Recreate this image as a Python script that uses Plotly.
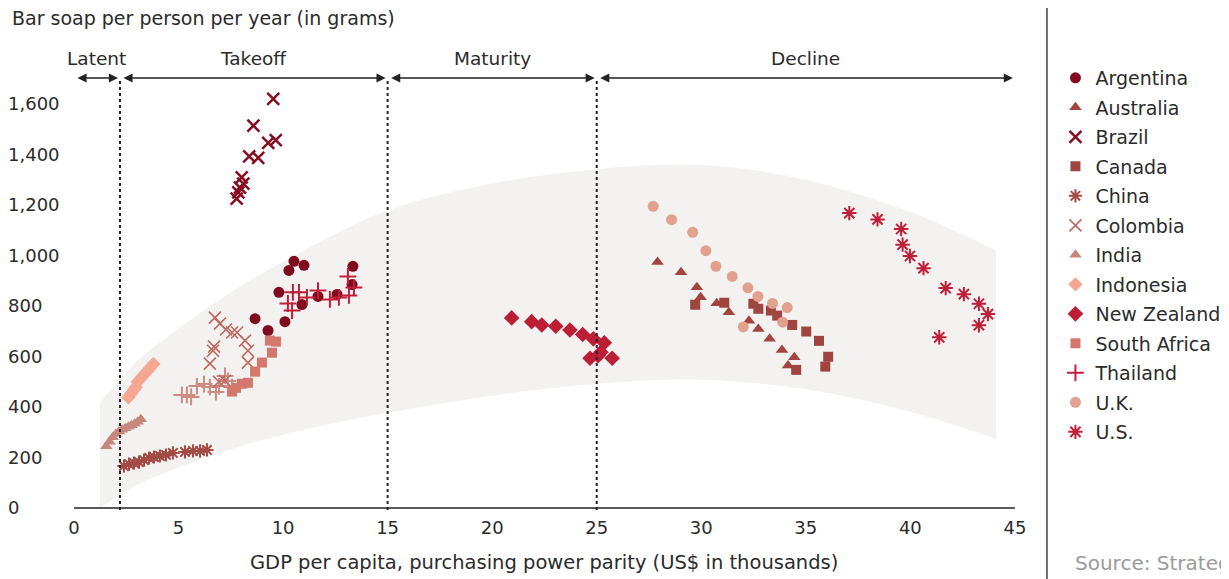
import plotly.graph_objects as go

# ---------------- data ----------------
countries = ["Argentina", "Australia", "Brazil", "Canada", "China", "Colombia", "India",
             "Indonesia", "New Zealand", "South Africa", "Thailand", "U.K.", "U.S."]

argentina_x = [8.66, 9.28, 10.09, 9.80, 10.28, 10.52, 11.00, 10.90, 11.67, 12.58, 13.34, 13.30]
argentina_y = [750, 703, 738, 854, 941, 977, 961, 806, 838, 846, 957, 885]

australia_x = [27.91, 29.03, 29.79, 29.97, 30.74, 31.32, 32.28, 32.73, 33.27, 33.86, 34.45, 34.15]
australia_y = [974, 934, 874, 835, 811, 775, 742, 709, 670, 626, 597, 564]

brazil_x = [9.53, 8.58, 9.29, 9.65, 8.38, 8.81, 8.02, 8.10, 7.94, 7.86, 7.78]
brazil_y = [1620, 1514, 1446, 1457, 1393, 1387, 1309, 1285, 1269, 1250, 1225]

canada_x = [29.71, 31.10, 32.49, 32.73, 33.33, 33.63, 34.35, 35.02, 35.63, 36.07, 35.93, 34.54]
canada_y = [805, 813, 809, 789, 782, 762, 725, 699, 662, 599, 560, 547]

china_x = [2.39, 2.63, 2.87, 3.11, 3.35, 3.59, 3.83, 4.11, 4.40, 4.73, 5.31, 5.69, 6.03, 6.36]
china_y = [166, 174, 178, 182, 190, 198, 202, 206, 210, 218, 222, 226, 226, 230]

colombia_x = [6.74, 6.98, 7.27, 7.56, 7.80, 8.18, 8.32, 8.32, 6.65, 6.70, 6.50, 6.93, 7.22]
colombia_y = [754, 730, 707, 695, 695, 663, 623, 576, 623, 639, 572, 500, 504]

india_x = [1.55, 1.70, 1.85, 2.00, 2.15, 2.30, 2.45, 2.60, 2.75, 2.90, 3.05, 3.20]
india_y = [245, 262, 280, 293, 303, 310, 316, 322, 328, 334, 342, 352]

indonesia_x = [2.60, 2.72, 2.85, 2.95, 3.05, 3.20, 3.35, 3.50, 3.65, 3.80]
indonesia_y = [438, 452, 466, 478, 500, 514, 528, 542, 556, 570]

nz_x = [20.93, 21.89, 22.37, 23.04, 23.72, 24.33, 24.84, 25.36, 25.20, 25.07, 24.68, 25.74]
nz_y = [753, 738, 725, 720, 705, 687, 670, 654, 617, 603, 593, 593]

sa_x = [9.37, 9.66, 9.47, 8.99, 8.66, 8.32, 8.03, 7.75, 7.56]
sa_y = [663, 659, 615, 576, 540, 496, 492, 476, 461]

thailand_x = [10.23, 10.43, 10.47, 10.76, 11.14, 11.67, 12.24, 12.67, 13.15, 13.10, 13.39]
thailand_y = [810, 782, 854, 854, 834, 861, 826, 834, 842, 917, 873]

uk_x = [27.70, 28.58, 29.59, 30.22, 30.70, 31.48, 32.23, 32.71, 33.41, 34.11, 33.89, 32.01]
uk_y = [1195, 1142, 1092, 1019, 957, 917, 872, 838, 810, 794, 736, 717]

us_x = [37.08, 38.43, 39.56, 39.63, 39.98, 40.63, 41.69, 42.56, 43.28, 43.71, 43.28, 41.38]
us_y = [1168, 1143, 1105, 1043, 998, 950, 871, 847, 809, 768, 724, 676]

# unlabelled light "+" series
other_x = [5.16, 5.40, 5.60, 5.88, 6.22, 6.50, 6.79, 6.93, 7.22, 7.36, 7.56]
other_y = [448, 448, 440, 483, 491, 479, 459, 483, 523, 503, 479]

# shaded band (envelope)
band_x = [1.24, 3, 5, 8, 11, 15, 20, 25, 30, 35, 40, 44.1]
band_top = [417, 580, 710, 880, 1020, 1178, 1285, 1342, 1358, 1300, 1172, 1020]
band_bottom = [0, 90, 160, 245, 310, 377, 445, 492, 508, 470, 380, 274]

# phases
phase_names = ["Latent", "Takeoff", "Maturity", "Decline"]
phase_bounds = [0, 2.2, 15, 25, 45]
phase_arrow_y = 1703
phase_label_y = 1782

x_ticks = [0, 5, 10, 15, 20, 25, 30, 35, 40, 45]
y_ticks = [0, 200, 400, 600, 800, 1000, 1200, 1400, 1600]

FONT = "DejaVu Sans"
TXT = "#2b2b2b"

series = [
    ("Argentina", argentina_x, argentina_y, "circle", "#7e0b1f", 11, None),
    ("Australia", australia_x, australia_y, "triangle-up", "#a4443f", 11, None),
    ("Brazil", brazil_x, brazil_y, "x-thin-open", "#860d22", 12, 2.5),
    ("Canada", canada_x, canada_y, "square", "#9f4540", 10, None),
    ("China", china_x, china_y, "asterisk-open", "#a34a45", 11, 2),
    ("Colombia", colombia_x, colombia_y, "x-thin-open", "#bd6860", 12, 1.6),
    ("India", india_x, india_y, "triangle-up", "#c8877c", 11, None),
    ("Indonesia", indonesia_x, indonesia_y, "diamond", "#f5a792", 11, None),
    ("New Zealand", nz_x, nz_y, "diamond", "#bc1e35", 12, None),
    ("South Africa", sa_x, sa_y, "square", "#d4786d", 10, None),
    ("Thailand", thailand_x, thailand_y, "cross-thin-open", "#bf1f38", 12, 2),
    ("U.K.", uk_x, uk_y, "circle", "#e2a08f", 11, None),
    ("U.S.", us_x, us_y, "asterisk-open", "#bf1f38", 12, 2),
]

fig = go.Figure()

# band
fig.add_trace(go.Scatter(x=band_x, y=band_bottom, mode="lines",
                         line=dict(width=0, shape="spline", color="rgba(0,0,0,0)"),
                         showlegend=False, hoverinfo="skip"))
fig.add_trace(go.Scatter(x=band_x, y=band_top, mode="lines",
                         line=dict(width=0, shape="spline", color="rgba(0,0,0,0)"),
                         fill="tonexty", fillcolor="#f3f2f0", showlegend=False, hoverinfo="skip"))

fig.add_trace(go.Scatter(x=other_x, y=other_y, mode="markers", name="Other", showlegend=False,
                         marker=dict(symbol="cross-thin-open", size=12, color="#cc8c82",
                                     line=dict(width=2, color="#cc8c82"))))

for name, xs, ys, sym, col, size, lw in series:
    marker = dict(symbol=sym, size=size, color=col)
    if lw is not None:
        marker["line"] = dict(width=lw, color=col)
    else:
        marker["line"] = dict(width=0)
    fig.add_trace(go.Scatter(x=xs, y=ys, mode="markers", name=name, legendgroup=name, marker=marker))

# phase separators (dotted)
for b in phase_bounds[1:-1]:
    fig.add_shape(type="line", xref="x", yref="y", x0=b, x1=b, y0=-8, y1=phase_arrow_y,
                  line=dict(color="#222222", width=2, dash="dot"))

# x axis baseline
fig.add_shape(type="line", xref="x", yref="y", x0=0, x1=45, y0=0, y1=0,
              line=dict(color="#222222", width=1.5))

# right separator
fig.add_shape(type="line", xref="paper", yref="paper", x0=1.0068, x1=1.0068, y0=-0.1, y1=1.1,
              line=dict(color="#444444", width=1.5))

annotations = []
for i, nm in enumerate(phase_names):
    a, b = phase_bounds[i], phase_bounds[i + 1]
    annotations.append(dict(x=b, y=phase_arrow_y, ax=a, ay=phase_arrow_y, xref="x", yref="y",
                            axref="x", ayref="y", text="", showarrow=True, arrowside="end+start",
                            arrowhead=2, arrowsize=1.3, arrowwidth=1.4, arrowcolor="#222222",
                            standoff=2, startstandoff=2))
    annotations.append(dict(x=(a + b) / 2, y=phase_label_y, xref="x", yref="y", text=nm,
                            showarrow=False, font=dict(family=FONT, size=18.5, color=TXT)))

annotations.append(dict(x=0, y=1.0436, xref="paper", yref="paper", xanchor="left", yanchor="middle",
                        text="Bar soap per person per year (in grams)", showarrow=False,
                        font=dict(family=FONT, size=19, color=TXT)))
annotations.append(dict(x=22.5, y=-0.0356, xref="x", yref="paper", xanchor="center", yanchor="middle",
                        text="GDP per capita, purchasing power parity (US$ in thousands)", showarrow=False,
                        font=dict(family=FONT, size=19.5, color=TXT)))
annotations.append(dict(x=1.032, y=-0.0356, xref="paper", yref="paper", xanchor="left", yanchor="middle",
                        text="Source: Strategy&", showarrow=False,
                        font=dict(family=FONT, size=20, color="#9a9a9a")))

fig.update_layout(
    width=1229, height=579,
    margin=dict(l=2, r=197, t=32, b=42, autoexpand=False),
    paper_bgcolor="white", plot_bgcolor="white",
    font=dict(family=FONT, size=18, color=TXT),
    showlegend=True,
    legend=dict(x=1.015, y=0.9624, xanchor="left", yanchor="top", bgcolor="rgba(0,0,0,0)",
                font=dict(family=FONT, size=19, color=TXT), traceorder="grouped", tracegroupgap=1.8),
    xaxis=dict(range=[-3.06, 46.2], tickvals=x_ticks, showgrid=False, zeroline=False, showline=False,
               ticks="", anchor="free", position=0.0713, ticklabelstandoff=6, automargin=False,
               tickfont=dict(family=FONT, size=18, color=TXT)),
    yaxis=dict(range=[-146.5, 1853.5], tickvals=y_ticks, tickformat=",", showgrid=False, zeroline=False,
               showline=False, ticks="", anchor="free", position=0, ticklabelposition="inside",
               ticklabelstandoff=-6, automargin=False, tickfont=dict(family=FONT, size=18, color=TXT)),
    annotations=annotations,
)

fig.write_html("out.html")
